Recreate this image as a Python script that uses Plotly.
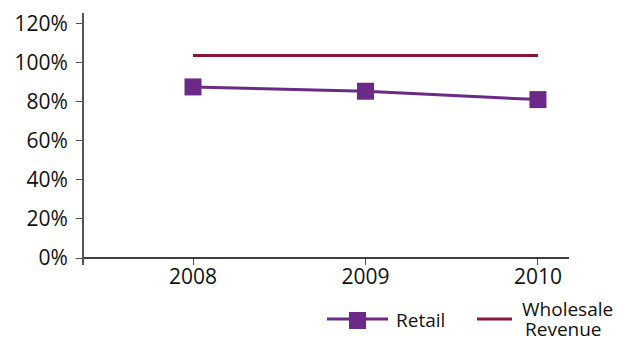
import plotly.graph_objects as go

years = ["2008", "2009", "2010"]
retail = [0.877, 0.855, 0.812]
wholesale = [1.038, 1.038, 1.038]
y_ticks = [0, 0.2, 0.4, 0.6, 0.8, 1.0, 1.2]
y_labels = ["0%", "20%", "40%", "60%", "80%", "100%", "120%"]

PURPLE = "#6b2a88"
CRIMSON = "#8a1538"
FONT = "Open Sans"
TXT = "#111111"

W, H = 629, 339
L, R, T, B = 84, 60, 13, 74
pw, ph = W - L - R, H - T - B

def px(x):
    return (x - L) / pw

def py(y):
    return (H - B - y) / ph

xi = list(range(len(years)))

fig = go.Figure()
fig.add_trace(go.Scatter(x=xi, y=wholesale, mode="lines", name="Wholesale Revenue",
                         line=dict(color=CRIMSON, width=3), showlegend=False))
fig.add_trace(go.Scatter(x=xi, y=retail, mode="lines+markers", name="Retail",
                         line=dict(color=PURPLE, width=3),
                         marker=dict(symbol="square", size=17, color=PURPLE),
                         showlegend=False))

shapes = [
    dict(type="line", xref="paper", yref="y", x0=0, x1=1, y0=0, y1=0,
         line=dict(color="#000000", width=1.5)),
    dict(type="line", xref="paper", yref="paper", x0=px(327), x1=px(388), y0=py(319), y1=py(319),
         line=dict(color=PURPLE, width=3)),
    dict(type="rect", xref="paper", yref="paper", x0=px(349), x1=px(366), y0=py(312), y1=py(329),
         fillcolor=PURPLE, line=dict(width=0)),
    dict(type="line", xref="paper", yref="paper", x0=px(477), x1=px(512), y0=py(319), y1=py(319),
         line=dict(color=CRIMSON, width=3)),
]

annotations = [
    dict(text="Retail", xref="paper", yref="paper", x=px(395), y=py(320), xanchor="left",
         yanchor="middle", showarrow=False, borderpad=0, font=dict(family=FONT, size=19, color=TXT)),
    dict(text="Wholesale", xref="paper", yref="paper", x=px(567), y=py(309), xanchor="center",
         yanchor="middle", showarrow=False, borderpad=0, font=dict(family=FONT, size=19, color=TXT)),
    dict(text="Revenue", xref="paper", yref="paper", x=px(563), y=py(329), xanchor="center",
         yanchor="middle", showarrow=False, borderpad=0, font=dict(family=FONT, size=19, color=TXT)),
]

fig.update_layout(
    width=W, height=H,
    margin=dict(l=L, r=R, t=T, b=B, pad=0, autoexpand=False),
    paper_bgcolor="white", plot_bgcolor="white",
    font=dict(family=FONT, size=19, color=TXT),
    shapes=shapes, annotations=annotations,
    showlegend=False,
    xaxis=dict(range=[-0.632, 2.18], tickvals=xi, ticktext=years, automargin=False,
               showgrid=False, zeroline=False, showline=False,
               ticks="inside", ticklen=7, tickcolor="#555555", tickwidth=1,
               tickfont=dict(family=FONT, size=21, color=TXT), ticklabelstandoff=-3),
    yaxis=dict(range=[-0.0359, 1.256], tickvals=y_ticks, ticktext=y_labels, automargin=False,
               showgrid=False, zeroline=False, showline=True, linecolor="#555555", linewidth=2,
               ticks="outside", ticklen=6, tickcolor="#555555", tickwidth=1,
               tickfont=dict(family=FONT, size=21, color=TXT), ticklabelstandoff=4),
)

fig.write_html("out.html")
